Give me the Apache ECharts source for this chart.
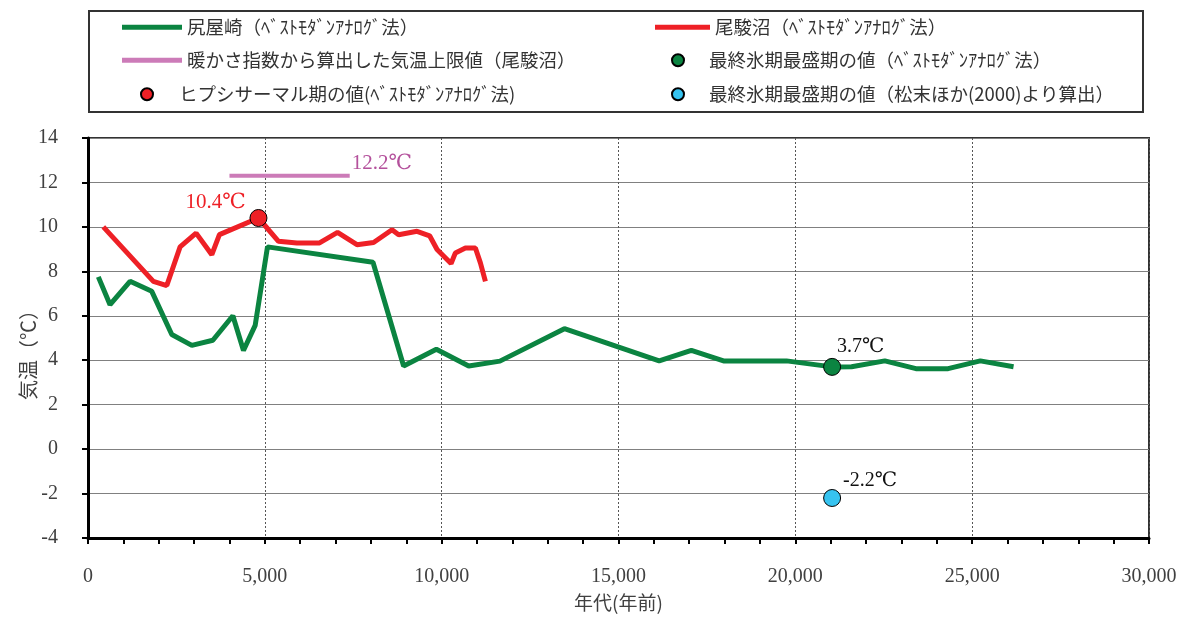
<!DOCTYPE html>
<html>
<head>
<meta charset="utf-8">
<script src="https://cdn.jsdelivr.net/npm/echarts@6/dist/echarts.min.js"></script>
<style>
html,body{margin:0;padding:0;background:#fff;}
#chart{width:1184px;height:617px;}
</style>
</head>
<body>
<div id="chart"></div>
<script>
// ---- data ----
const shiriyaYears = [292, 623, 1189, 1803, 2369, 2935, 3530, 4096, 4396, 4727, 5075, 8058, 8924, 9850, 10764, 11647, 13470, 16150, 17060, 17970, 19750, 21040, 21590, 22530, 23410, 24320, 25230, 26170];
const shiriyaTemps = [7.75, 6.5, 7.55, 7.1, 5.16, 4.67, 4.9, 6.0, 4.44, 5.57, 9.1, 8.41, 3.74, 4.49, 3.74, 3.96, 5.42, 3.97, 4.44, 3.97, 3.97, 3.7, 3.71, 3.97, 3.62, 3.62, 3.97, 3.71];

const obuchiYears = [433, 1848, 2228, 2604, 3057, 3501, 3716, 4820, 5386, 5907, 6547, 7056, 7605, 8075, 8596, 8783, 9304, 9660, 9870, 10266, 10388, 10671, 10954, 11095, 11237];
const obuchiTemps = [10.0, 7.55, 7.36, 9.1, 9.72, 8.75, 9.65, 10.4, 9.35, 9.28, 9.28, 9.75, 9.2, 9.3, 9.87, 9.65, 9.8, 9.6, 8.98, 8.35, 8.83, 9.05, 9.05, 8.38, 7.55];

const warmthYears = [4000, 7400];
const warmthTemps = [12.3, 12.3];
const warmthLabel = '12.2℃';

const hypsiPoint = [4820, 10.4];
const hypsiLabel = '10.4℃';
const lgmPoint = [21040, 3.7];
const lgmLabel = '3.7℃';
const lgmMatsuPoint = [21040, -2.2];
const lgmMatsuLabel = '-2.2℃';

const names = [
  '尻屋崎（ﾍﾞｽﾄﾓﾀﾞﾝｱﾅﾛｸﾞ法）',
  '尾駿沼（ﾍﾞｽﾄﾓﾀﾞﾝｱﾅﾛｸﾞ法）',
  '暖かさ指数から算出した気温上限値（尾駿沼）',
  '最終氷期最盛期の値（ﾍﾞｽﾄﾓﾀﾞﾝｱﾅﾛｸﾞ法）',
  'ヒプシサーマル期の値(ﾍﾞｽﾄﾓﾀﾞﾝｱﾅﾛｸﾞ法)',
  '最終氷期最盛期の値（松末ほか(2000)より算出）'
];
const xAxisName = '年代(年前)';
const yAxisName = '気温（℃）';

// ---- chart ----
const zip = (a, b) => a.map((v, i) => [v, b[i]]);
const SERIF = '"Liberation Serif", "DejaVu Serif", "Noto Sans CJK JP", serif';
const JP = '"Noto Sans CJK JP", sans-serif';
const GREEN = '#0b8441';
const RED = '#ee2026';
const PINK = '#cc7bb8';
const BLUE = '#36c3f0';

const legendText = {fontFamily: JP, fontSize: 18.5, color: '#333'};
function lineLegend(name, left, top, w) {
  return {data: [{name: name, icon: 'rect'}], left: left, top: top, padding: 0,
    itemWidth: w, itemHeight: 5, itemGap: 0, textStyle: legendText, selectedMode: false};
}
function dotLegend(name, left, top, w) {
  return {data: [{name: name, icon: 'circle'}], left: left, top: top, padding: 0,
    itemWidth: w, itemHeight: 12, itemGap: 0, textStyle: legendText, selectedMode: false};
}

const chart = echarts.init(document.getElementById('chart'));
chart.setOption({
  animation: false,
  backgroundColor: '#fff',
  grid: {left: 88, right: 35, top: 138, bottom: 78, show: true, borderColor: '#333', borderWidth: 2},
  graphic: [{
    type: 'rect', shape: {x: 89, y: 11, width: 1054, height: 101},
    style: {fill: 'none', stroke: '#333', lineWidth: 2}, z: 0
  }],
  legend: [
    lineLegend(names[0], 122, 18, 60),
    lineLegend(names[1], 655, 18, 55),
    lineLegend(names[2], 122, 51, 60),
    dotLegend(names[3], 671, 51, 52),
    dotLegend(names[4], 140, 85, 54),
    dotLegend(names[5], 671, 85, 52)
  ],
  xAxis: {
    type: 'value', min: 0, max: 30000, interval: 5000,
    name: xAxisName, nameLocation: 'middle', nameGap: 55,
    nameTextStyle: {fontFamily: JP, fontSize: 19, color: '#404040'},
    axisLine: {show: true, onZero: false, lineStyle: {color: '#000', width: 3}},
    axisTick: {show: true, length: 6, lineStyle: {color: '#000', width: 2}},
    minorTick: {show: true, splitNumber: 5, length: 6, lineStyle: {color: '#000', width: 2}},
    axisLabel: {margin: 29, fontFamily: SERIF, fontSize: 20, color: '#404040',
      formatter: v => String(v).replace(/\B(?=(\d{3})+(?!\d))/g, ',')},
    splitLine: {show: true, lineStyle: {color: '#555', width: 1, type: [2, 2]}}
  },
  yAxis: {
    type: 'value', min: -4, max: 14, interval: 2,
    name: yAxisName, nameLocation: 'middle', nameGap: 50, nameRotate: 90, nameMoveOverlap: false,
    nameTextStyle: {fontFamily: JP, fontSize: 20, color: '#404040', padding: [0, 24, 0, 0]},
    axisLine: {show: true, onZero: false, lineStyle: {color: '#000', width: 3}},
    axisTick: {show: true, length: 6, lineStyle: {color: '#000', width: 2}},
    axisLabel: {margin: 30, fontFamily: SERIF, fontSize: 20, color: '#404040'},
    splitLine: {show: true, lineStyle: {color: '#808080', width: 1.2}}
  },
  series: [
    {name: names[0], type: 'line', data: zip(shiriyaYears, shiriyaTemps), symbol: 'none',
      lineStyle: {color: GREEN, width: 5}, itemStyle: {color: GREEN}, z: 3},
    {name: names[1], type: 'line', data: zip(obuchiYears, obuchiTemps), symbol: 'none',
      lineStyle: {color: RED, width: 5}, itemStyle: {color: RED}, z: 3},
    {name: names[2], type: 'line', symbol: 'none', data: zip(warmthYears, warmthTemps),
      endLabel: {show: true, distance: 2, formatter: warmthLabel, offset: [0, -12],
        fontFamily: SERIF, fontSize: 21, color: '#b4519c'},
      lineStyle: {color: PINK, width: 4}, itemStyle: {color: PINK}, z: 3},
    {name: names[3], type: 'scatter', data: [lgmPoint], symbol: 'circle', symbolSize: 17,
      itemStyle: {color: GREEN, borderColor: '#000', borderWidth: 1, opacity: 1},
      label: {show: true, position: [14, -21], formatter: lgmLabel, fontFamily: SERIF, fontSize: 20, color: '#111'}, z: 5},
    {name: names[4], type: 'scatter', data: [hypsiPoint], symbol: 'circle', symbolSize: 17,
      itemStyle: {color: RED, borderColor: '#000', borderWidth: 1, opacity: 1},
      label: {show: true, position: [-64, -17], formatter: hypsiLabel, fontFamily: SERIF, fontSize: 21, color: RED}, z: 5},
    {name: names[5], type: 'scatter', data: [lgmMatsuPoint], symbol: 'circle', symbolSize: 17,
      itemStyle: {color: BLUE, borderColor: '#000', borderWidth: 1, opacity: 1},
      label: {show: true, position: [20, -18], formatter: lgmMatsuLabel, fontFamily: SERIF, fontSize: 20, color: '#111'}, z: 5}
  ]
});
</script>
</body>
</html>
